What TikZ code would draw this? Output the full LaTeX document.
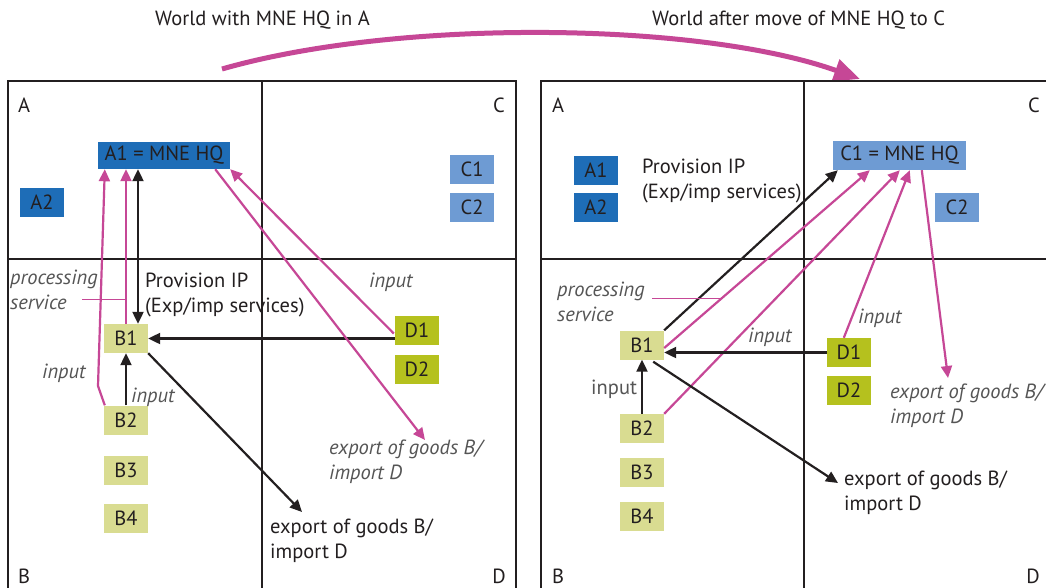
\documentclass[tikz,border=0pt]{standalone}
\usepackage{fontspec}
\setmainfont{PT Sans}
\usetikzlibrary{arrows.meta,calc}
\definecolor{pinkc}{RGB}{198,71,150}
\definecolor{darkbl}{RGB}{30,109,183}
\definecolor{lightbl}{RGB}{110,155,211}
\definecolor{bcol}{RGB}{217,220,145}
\definecolor{dcol}{RGB}{181,193,30}
\definecolor{graytx}{RGB}{85,85,85}
\definecolor{linec}{RGB}{35,31,32}
\begin{document}
\begin{tikzpicture}[x=1pt,y=-1pt,
  every node/.style={font=\fontsize{20.5}{25}\selectfont, text=linec, inner sep=0pt},
  cell/.style={minimum width=44pt, minimum height=29pt, anchor=center},
  abox/.style={cell, fill=darkbl},
  cbox/.style={cell, fill=lightbl},
  bbox/.style={cell, fill=bcol},
  dbox/.style={cell, fill=dcol},
  lbl/.style={anchor=base west, align=left},
  itl/.style={lbl, text=graytx, font=\fontsize{20.5}{25}\selectfont\itshape},
  gray/.style={lbl, text=graytx},
  corner/.style={anchor=base west},
  cornerr/.style={anchor=base east},
  panel/.style={draw=linec, line width=1.2pt},
  blk/.style={draw=linec, line width=2.2pt, -{Triangle[length=12pt,width=11pt]}},
  pk/.style={draw=pinkc, line width=2.2pt, -{Triangle[length=12pt,width=11pt]}},
  leader/.style={draw=pinkc, line width=1pt},
  big/.style={draw=pinkc, line width=5pt, -{Triangle[length=26pt,width=22pt]}}
]
\useasboundingbox (0,0) rectangle (1046,587);
\fill[white] (0,0) rectangle (1046,587);

% titles
\node[lbl] (t1) at (155,25) {World with MNE HQ in A};
\node[lbl] (t2) at (652,25) {World after move of MNE HQ to C};
\coordinate (bs) at (222,69);
\coordinate (be) at (860,79);
\draw[big] (bs) .. controls (400,18) and (700,22) .. (be);

% panels
\draw[panel] (8,600) -- (8,81) -- (516,81) -- (516,600);
\draw[panel] (262,81) -- (262,600);
\draw[panel] (8,259) -- (516,259);
\draw[panel] (541,600) -- (541,81) -- (1060,81);
\draw[panel] (804,81) -- (804,600);
\draw[panel] (541,259) -- (1060,259);

% corner labels
\node[corner] (la) at (18,112) {A};
\node[cornerr] (lc) at (505,112) {C};
\node[corner] (lb) at (18,583) {B};
\node[cornerr] (ld) at (506,583) {D};
\node[corner] (ra) at (552,112) {A};
\node[cornerr] (rc) at (1040,112) {C};
\node[corner] (rb) at (552,583) {B};
\node[cornerr] (rd) at (1040,583) {D};

% ---------- left panel boxes
\node[abox, minimum width=132pt, minimum height=27pt] (lA1) at (164,155.5) {A1 = MNE HQ};
\node[abox] (lA2) at (42,202.5) {A2};
\node[cbox] (lC1) at (472,169) {C1};
\node[cbox] (lC2) at (472,207.5) {C2};
\node[bbox] (lB1) at (126,338.5) {B1};
\node[bbox] (lB2) at (126,420) {B2};
\node[bbox] (lB3) at (126,470) {B3};
\node[bbox] (lB4) at (126,518.5) {B4};
\node[dbox] (lD1) at (417,330.5) {D1};
\node[dbox] (lD2) at (417,369) {D2};

% left labels (base = baseline of last line)
\node[lbl] (lprov) at (145,312) {Provision IP\\(Exp/imp services)};
\node[itl] (lproc) at (10,309) {processing\\service};
\node[itl] (lin1) at (42,378) {input};
\node[itl] (lin2) at (131,402) {input};
\node[itl] (lin3) at (369,287) {input};
\node[itl] (lexp1) at (329,479) {export of goods B/\\import D};
\node[lbl] (lexp2) at (270,558) {export of goods B/\\import D};

% left connectors
\coordinate (lbend) at (98,386);
\draw[pk] ($(lB2.north west)+(1,0)$) -- (lbend) -- ($(lA1.south west)+(7,0)$);
\draw[pk] (lB1.north) -- (lB1.north |- lA1.south);
\coordinate (lpt) at ($(lB1.north)+(12,0)$);
\draw[draw=linec, line width=2.2pt, {Triangle[length=12pt,width=11pt]}-{Triangle[length=12pt,width=11pt]}] (lpt |- lA1.south) -- (lpt);
\draw[blk] (lB1.east -| lD1.west) -- (lB1.east);
\draw[blk] (lB2.north) -- (lB1.south);
\coordinate (lexpt) at (302,512);
\draw[blk] (lB1.south east) -- (lexpt);
\draw[pk] ($(lD1.west)+(-1,3)$) -- (lA1.south east);
\coordinate (lexpp) at (425,440);
\draw[pk] ($(lA1.south east)+(-15,0)$) -- (lexpp);
\coordinate (lld) at (82,299);
\draw[leader] (lld) -- (lld -| lB1.north);

% ---------- right panel boxes
\node[abox] (rA1) at (596,170.5) {A1};
\node[abox] (rA2) at (596,207.5) {A2};
\node[cbox, minimum width=133pt] (rC1) at (899.5,155.5) {C1 = MNE HQ};
\node[cbox] (rC2) at (957,207.5) {C2};
\node[bbox] (rB1) at (642,345) {B1};
\node[bbox] (rB2) at (642,428.5) {B2};
\node[bbox] (rB3) at (642,472.5) {B3};
\node[bbox] (rB4) at (642,516.5) {B4};
\node[dbox] (rD1) at (849,352.5) {D1};
\node[dbox] (rD2) at (849,390.5) {D2};

% right labels
\node[lbl] (rprov) at (642,198) {Provision IP\\(Exp/imp services)};
\node[itl] (rproc) at (557,321) {processing\\service};
\node[gray] (rin1) at (591,394) {input};
\node[itl] (rin2) at (748,342) {input};
\node[itl] (rin3) at (858,323) {input};
\node[itl] (rexp1) at (890,423) {export of goods B/\\import D};
\node[lbl] (rexp2) at (844,510) {export of goods B/\\import D};

% right connectors
\draw[blk] (rB1.north east) -- ($(rC1.south west)+(5,0)$);
\draw[pk] ($(rB1.east)+(0,3)$) -- ($(rC1.south west)+(37,0)$);
\draw[pk] (rB2.north east) -- ($(rC1.south west)+(67,0)$);
\draw[pk] ($(rD1.north west)+(17,0)$) -- ($(rC1.south west)+(77,0)$);
\coordinate (rexpp) at (948,378);
\draw[pk] ($(rC1.south west)+(89,0)$) -- (rexpp);
\draw[blk] (rD1.west) -- (rD1.west -| rB1.east);
\draw[blk] (rB2.north) -- (rB1.south);
\coordinate (rexpt) at (838,483);
\draw[blk] ($(rB1.south east)+(-11,2)$) -- (rexpt);
\coordinate (rld) at (652,298);
\coordinate (rle) at (720,298);
\draw[leader] (rld) -- (rle);
\end{tikzpicture}
\end{document}
